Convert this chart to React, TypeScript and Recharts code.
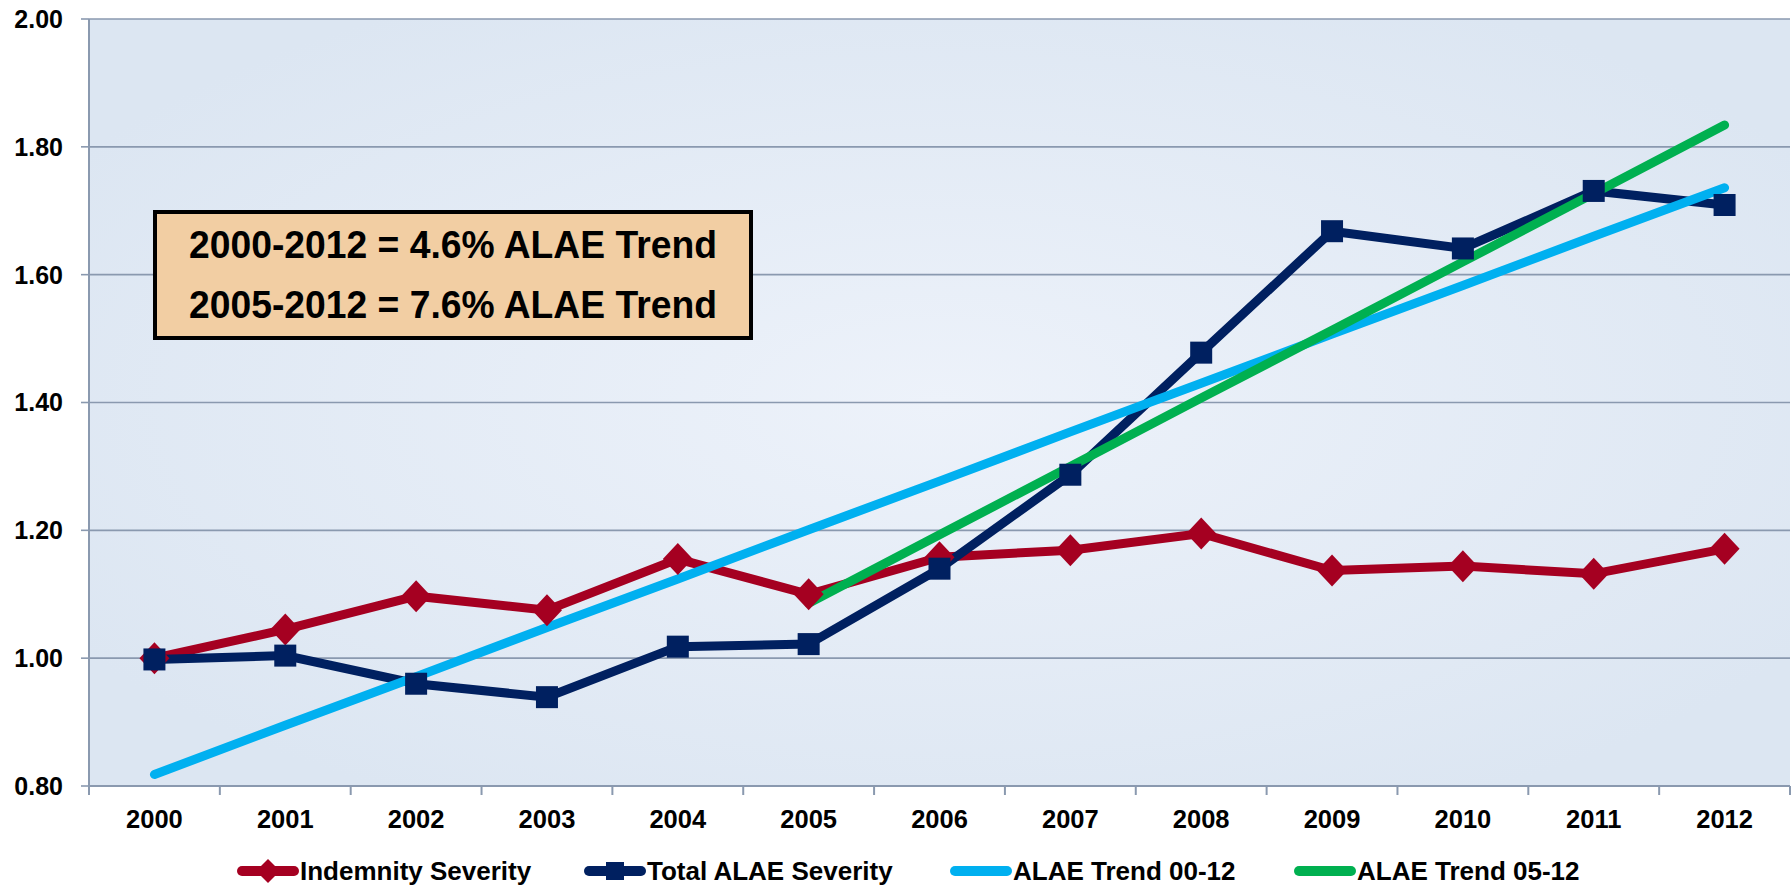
import React from "react";
import { LineChart, Line, XAxis, YAxis, CartesianGrid, Legend } from "recharts";

const years = ["2000", "2001", "2002", "2003", "2004", "2005", "2006", "2007", "2008", "2009", "2010", "2011", "2012"];
const indemnity = [1.0, 1.045, 1.097, 1.075, 1.155, 1.1, 1.158, 1.169, 1.195, 1.137, 1.144, 1.132, 1.171];
const totalAlae = [0.998, 1.004, 0.96, 0.939, 1.018, 1.022, 1.14, 1.287, 1.478, 1.668, 1.641, 1.731, 1.709];
const trend0012 = [0.818, 0.895, 0.971, 1.048, 1.124, 1.201, 1.277, 1.354, 1.43, 1.507, 1.583, 1.66, 1.736];
const trend0512 = [null, null, null, null, null, 1.086, 1.193, 1.3, 1.407, 1.513, 1.62, 1.727, 1.834];
const yTicks = [0.8, 1.0, 1.2, 1.4, 1.6, 1.8, 2.0];

const RED = "#A50021";
const NAVY = "#002060";
const SKY = "#00B0F0";
const GREEN = "#00B050";
const GRID = "#8A99AF";
const FONT = "'Liberation Sans', Arial, sans-serif";

const data = years.map((year, i) => ({
  year,
  indemnity: indemnity[i],
  totalAlae: totalAlae[i],
  trend0012: trend0012[i],
  trend0512: trend0512[i],
}));

const Diamond = ({ cx, cy, fill }: any) =>
  cx == null || cy == null ? null : (
    <path d={`M${cx},${cy - 16} L${cx + 15},${cy} L${cx},${cy + 16} L${cx - 15},${cy} Z`} fill={fill} />
  );

const Square = ({ cx, cy, fill }: any) =>
  cx == null || cy == null ? null : <rect x={cx - 11} y={cy - 11} width={22} height={22} fill={fill} />;

const XTick = (props: any) => {
  const { x, y, payload, index } = props;
  const half = payload.offset || 65.5;
  const axisY = y - 24;
  return (
    <g>
      <line x1={x - half} x2={x - half} y1={axisY} y2={axisY + 9} stroke={GRID} strokeWidth={2} />
      {index === years.length - 1 && (
        <line x1={x + half} x2={x + half} y1={axisY} y2={axisY + 9} stroke={GRID} strokeWidth={2} />
      )}
      <text x={x} y={y} dy="0.71em" textAnchor="middle" fontFamily={FONT} fontWeight="bold" fontSize={25.5} fill="#000">
        {payload.value}
      </text>
    </g>
  );
};

const legendItems = [
  { label: "Indemnity Severity", color: RED, marker: "diamond" },
  { label: "Total ALAE Severity", color: NAVY, marker: "square" },
  { label: "ALAE Trend 00-12", color: SKY, marker: "none" },
  { label: "ALAE Trend 05-12", color: GREEN, marker: "none" },
];
const legendWidths = [347, 366, 344, 300];

const renderLegend = () => (
  <div style={{ display: "flex", alignItems: "center", height: 30, paddingLeft: 236, fontFamily: FONT, fontWeight: "bold", fontSize: 26, color: "#000" }}>
    {legendItems.map((it, i) => (
      <div key={it.label} style={{ display: "flex", alignItems: "center", width: legendWidths[i], whiteSpace: "nowrap" }}>
        <svg width={64} height={30}>
          <line x1={6} x2={58} y1={15} y2={15} stroke={it.color} strokeWidth={10} strokeLinecap="round" />
          {it.marker === "diamond" && <path d="M32,3 L44,15 L32,27 L20,15 Z" fill={it.color} />}
          {it.marker === "square" && <rect x={23} y={6} width={18} height={18} fill={it.color} />}
        </svg>
        <span>{it.label}</span>
      </div>
    ))}
  </div>
);

export default function App() {
  return (
    <div style={{ position: "absolute", left: 0, top: 0, background: "#fff" }}>
      <LineChart width={1792} height={887} data={data} margin={{ top: 19, right: 2, left: 0, bottom: 1 }}>
        <defs>
          <radialGradient id="plotBg" cx="50%" cy="50%" r="60%">
            <stop offset="0%" stopColor="#EDF2FA" />
            <stop offset="100%" stopColor="#DCE6F2" />
          </radialGradient>
        </defs>
        <CartesianGrid vertical={false} stroke={GRID} strokeWidth={1.6} fill="url(#plotBg)" fillOpacity={1} />
        <XAxis
          dataKey="year"
          scale="band"
          interval={0}
          height={70}
          tickLine={false}
          tickSize={8}
          tickMargin={16}
          axisLine={{ stroke: GRID, strokeWidth: 2 }}
          tick={<XTick />}
        />
        <YAxis
          width={89}
          domain={[0.8, 2.0]}
          ticks={yTicks}
          tickFormatter={(v: number) => v.toFixed(2)}
          tickSize={8}
          tickMargin={18}
          tickLine={{ stroke: GRID, strokeWidth: 1.6 }}
          axisLine={{ stroke: GRID, strokeWidth: 2 }}
          tick={{ fontFamily: FONT, fontWeight: "bold", fontSize: 25, fill: "#000" }}
        />
        <g>
          <rect x={155} y={212} width={596} height={126} fill="#F2CEA3" stroke="#000" strokeWidth={4} />
          <text x={453} y={258} textAnchor="middle" fontFamily={FONT} fontWeight="bold" fontSize={38} textLength={528} lengthAdjust="spacingAndGlyphs" fill="#000">
            2000-2012 = 4.6% ALAE Trend
          </text>
          <text x={453} y={318} textAnchor="middle" fontFamily={FONT} fontWeight="bold" fontSize={38} textLength={528} lengthAdjust="spacingAndGlyphs" fill="#000">
            2005-2012 = 7.6% ALAE Trend
          </text>
        </g>
        <Line
          type="linear"
          dataKey="indemnity"
          stroke={RED}
          strokeWidth={9}
          dot={(p: any) => <Diamond key={`d${p.index}`} cx={p.cx} cy={p.cy} fill={RED} />}
          activeDot={false}
          isAnimationActive={false}
        />
        <Line
          type="linear"
          dataKey="totalAlae"
          stroke={NAVY}
          strokeWidth={9}
          dot={(p: any) => <Square key={`s${p.index}`} cx={p.cx} cy={p.cy} fill={NAVY} />}
          activeDot={false}
          isAnimationActive={false}
        />
        <Line
          type="linear"
          dataKey="trend0012"
          stroke={SKY}
          strokeWidth={9}
          strokeLinecap="round"
          dot={false}
          activeDot={false}
          isAnimationActive={false}
        />
        <Line
          type="linear"
          dataKey="trend0512"
          stroke={GREEN}
          strokeWidth={9}
          strokeLinecap="round"
          dot={false}
          activeDot={false}
          connectNulls={false}
          isAnimationActive={false}
        />
        <Legend verticalAlign="bottom" content={renderLegend} wrapperStyle={{ left: 0, width: 1792, height: 30 }} />
      </LineChart>
    </div>
  );
}
